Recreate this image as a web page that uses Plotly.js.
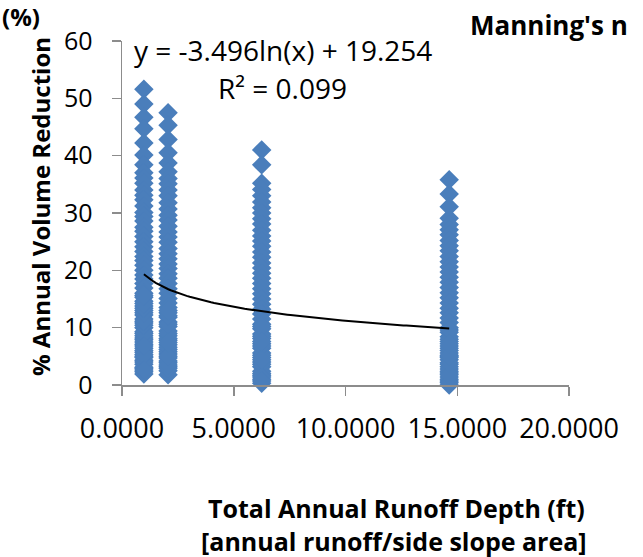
<!DOCTYPE html>
<html>
<head>
<meta charset="utf-8">
<script src="https://cdn.plot.ly/plotly-3.0.1.min.js"></script>
<style>html,body{margin:0;padding:0;background:#fff;}#chart{width:643px;height:557px;}</style>
</head>
<body>
<div id="chart"></div>
<script>
// Runoff depth (ft) for each column of points
const runoffDepths = [0.98, 2.06, 6.25, 14.64];

// % annual volume reduction, one list per runoff depth
const reductionA = [51.6, 49.0, 46.7, 44.7, 42.2, 40.1, 38.4, 37.0, 36.1, 35.2, 34.0, 33.1, 32.3, 31.2, 30.1, 29.4, 28.6, 27.5, 26.8, 25.9, 25.0, 24.1, 23.3, 22.4, 21.7, 20.9, 20.0, 19.2, 18.5, 17.7, 16.9, 16.0, 15.3, 14.6, 13.8, 13.0, 12.2, 11.5, 10.8, 10.0, 9.3, 8.6, 7.9, 7.1, 6.4, 5.7, 5.0, 4.3, 3.6, 2.9, 2.3, 1.9, 3.1, 4.8, 6.0, 7.5, 8.2, 9.0, 10.4, 11.1, 12.6, 13.4, 14.2, 15.6, 4.0, 5.3, 2.6, 6.8];
const reductionB = [47.5, 45.3, 42.8, 40.5, 38.7, 37.2, 36.0, 35.1, 34.0, 33.0, 31.8, 30.7, 29.6, 28.8, 27.7, 26.7, 25.8, 24.9, 23.8, 22.9, 22.0, 21.1, 20.3, 19.4, 18.6, 17.7, 16.8, 16.0, 15.1, 14.3, 13.5, 12.6, 11.8, 11.0, 10.2, 9.4, 8.6, 7.8, 7.0, 6.2, 5.4, 4.7, 3.9, 3.2, 2.5, 1.8, 2.9, 4.2, 5.8, 6.6, 8.1, 9.0, 10.6, 12.1, 13.0, 3.5, 5.0, 7.4];
const reductionC = [41.0, 38.4, 35.2, 34.1, 33.0, 31.9, 30.9, 30.0, 29.0, 28.1, 27.0, 26.0, 25.1, 24.2, 23.2, 22.3, 21.3, 20.4, 19.5, 18.6, 17.7, 16.8, 15.9, 15.0, 14.1, 13.2, 12.4, 11.5, 10.6, 9.8, 8.9, 8.1, 7.2, 6.4, 5.6, 4.8, 4.0, 3.2, 2.4, 1.7, 1.0, 0.3, 2.0, 3.6, 5.2, 6.8, 8.5, 10.2, 1.4, 4.4, 7.6, 0.7];
const reductionD = [35.8, 33.3, 31.1, 29.1, 28.0, 27.1, 26.2, 25.2, 24.3, 23.4, 22.4, 21.5, 20.6, 19.7, 18.8, 17.9, 17.0, 16.1, 15.2, 14.3, 13.4, 12.6, 11.7, 10.9, 10.0, 9.2, 8.4, 7.6, 6.8, 6.0, 5.2, 4.4, 3.6, 2.8, 2.1, 1.4, 0.7, 0.0, 1.0, 2.4, 3.2, 4.8, 5.6, 6.4, 8.0, 9.6, 0.4, 1.8, 3.9, 5.0, 7.2];

// Logarithmic trendline shown on the chart: y = a ln(x) + b
const trendA = -3.496;
const trendB = 19.254;
const trendLabel = "y = -3.496ln(x) + 19.254";
const r2Label = "R² = 0.099";

const xTickVals = [0, 5, 10, 15, 20];
const xTickText = ["0.0000", "5.0000", "10.0000", "15.0000", "20.0000"];
const yTickVals = [0, 10, 20, 30, 40, 50, 60];

const groups = [reductionA, reductionB, reductionC, reductionD];
const xs = [], ys = [];
groups.forEach((g, i) => g.forEach(v => { xs.push(runoffDepths[i]); ys.push(v); }));

const xMin = Math.min(...runoffDepths), xMax = Math.max(...runoffDepths);
const tx = [], ty = [];
for (let k = 0; k <= 100; k++) {
  const x = xMin + (xMax - xMin) * k / 100;
  tx.push(x); ty.push(trendA * Math.log(x) + trendB);
}

const FONT = "Open Sans, Noto Sans, sans-serif";
const data = [
  {x: xs, y: ys, type: 'scatter', mode: 'markers', cliponaxis: false,
   marker: {symbol: 'diamond', size: 15, color: '#4A7EBB', line: {width: 0}}, hoverinfo: 'x+y'},
  {x: tx, y: ty, type: 'scatter', mode: 'lines', line: {color: '#000', width: 2}, hoverinfo: 'skip'}
];

const layout = {
  width: 643, height: 557,
  margin: {l: 122, r: 74, t: 41, b: 172},
  paper_bgcolor: '#fff', plot_bgcolor: '#fff',
  showlegend: false,
  font: {family: FONT, color: '#000'},
  xaxis: {range: [0, 20], tickvals: xTickVals, ticktext: xTickText,
    showgrid: false, zeroline: false, showline: true, linecolor: '#8c8c8c', linewidth: 1.5,
    ticks: 'outside', ticklen: 9, tickcolor: '#8c8c8c', tickwidth: 1.5,
    tickfont: {size: 27, family: FONT, color: '#000'}, ticklabelstandoff: 10},
  yaxis: {range: [0, 60], tickvals: yTickVals,
    showgrid: false, zeroline: false, showline: true, linecolor: '#8c8c8c', linewidth: 1.5,
    ticks: 'outside', ticklen: 9, tickcolor: '#8c8c8c', tickwidth: 1.5,
    tickfont: {size: 25, family: FONT, color: '#000'}, ticklabelstandoff: 14},
  annotations: [
    {text: trendLabel, xref: 'paper', yref: 'paper', x: 0.36, y: 0.974, showarrow: false,
     xanchor: 'center', yanchor: 'middle', font: {size: 28, family: FONT, color: '#000'}},
    {text: r2Label, xref: 'paper', yref: 'paper', x: 0.36, y: 0.863, showarrow: false,
     xanchor: 'center', yanchor: 'middle', font: {size: 28, family: FONT, color: '#000'}},
    {text: "<b>Manning's n</b>", xref: 'paper', yref: 'paper', x: (468 - 122) / 447, y: (385 - 25) / 344,
     showarrow: false, xanchor: 'left', yanchor: 'middle', font: {size: 26, family: FONT, color: '#000'}},
    {text: "<b>(%)</b>", xref: 'paper', yref: 'paper', x: (0 - 122) / 447, y: (385 + 2) / 344,
     showarrow: false, xanchor: 'left', yanchor: 'top', font: {size: 24, family: FONT, color: '#000'}},
    {text: "<b>% Annual Volume Reduction</b>", xref: 'paper', yref: 'paper', x: (40 - 122) / 447, y: (385 - 207) / 344,
     showarrow: false, textangle: -90, xanchor: 'center', yanchor: 'middle', font: {size: 24, family: FONT, color: '#000'}},
    {text: "<b>Total Annual Runoff Depth (ft)</b>", xref: 'paper', yref: 'paper', x: (396 - 122) / 447, y: (385 - 507.5) / 344,
     showarrow: false, xanchor: 'center', yanchor: 'middle', font: {size: 25, family: FONT, color: '#000'}},
    {text: "<b>[annual runoff/side slope area]</b>", xref: 'paper', yref: 'paper', x: (394 - 122) / 447, y: (385 - 541) / 344,
     showarrow: false, xanchor: 'center', yanchor: 'middle', font: {size: 25, family: FONT, color: '#000'}}
  ]
};

Plotly.newPlot('chart', data, layout, {displayModeBar: false, staticPlot: true});
</script>
</body>
</html>
